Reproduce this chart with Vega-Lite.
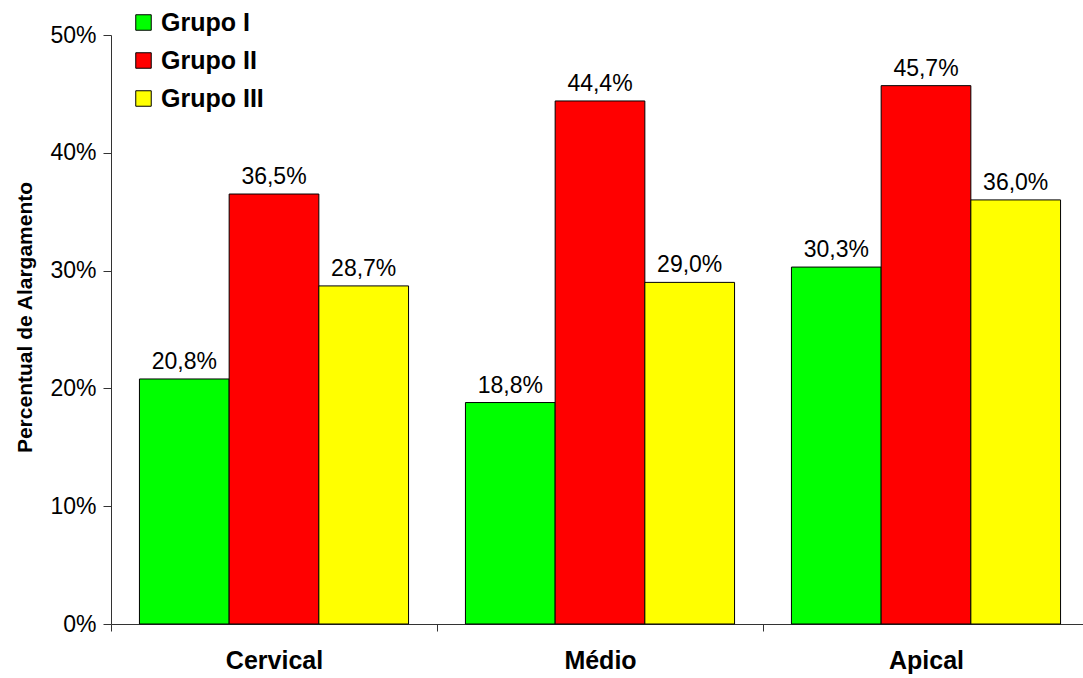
{
  "$schema": "https://vega.github.io/schema/vega-lite/v6.json",
  "width": 972,
  "height": 589,
  "autosize": {"type": "none"},
  "padding": {"left": 111, "top": 35, "right": 0, "bottom": 54},
  "background": "white",
  "config": {
    "font": "Liberation Sans",
    "view": {"stroke": null},
    "locale": {"number": {"decimal": ",", "thousands": ".", "grouping": [3], "currency": ["", ""]}}
  },
  "data": {
    "values": [
      {"regiao": "Cervical", "grupo": "Grupo I", "valor": 0.208},
      {"regiao": "Cervical", "grupo": "Grupo II", "valor": 0.365},
      {"regiao": "Cervical", "grupo": "Grupo III", "valor": 0.287},
      {"regiao": "Médio", "grupo": "Grupo I", "valor": 0.188},
      {"regiao": "Médio", "grupo": "Grupo II", "valor": 0.444},
      {"regiao": "Médio", "grupo": "Grupo III", "valor": 0.29},
      {"regiao": "Apical", "grupo": "Grupo I", "valor": 0.303},
      {"regiao": "Apical", "grupo": "Grupo II", "valor": 0.457},
      {"regiao": "Apical", "grupo": "Grupo III", "valor": 0.36}
    ]
  },
  "encoding": {
    "x": {
      "field": "regiao",
      "type": "nominal",
      "sort": ["Cervical", "Médio", "Apical"],
      "scale": {"paddingInner": 0, "paddingOuter": 0, "range": [0, 978]},
      "axis": {
        "title": null,
        "labelAngle": 0,
        "labelFontSize": 25,
        "labelFontWeight": "bold",
        "labelColor": "#000",
        "labelPadding": 17,
        "tickBand": "extent",
        "tickSize": 7,
        "tickColor": "#333",
        "domainColor": "#333",
        "grid": false
      }
    },
    "xOffset": {
      "field": "grupo",
      "type": "nominal",
      "sort": ["Grupo I", "Grupo II", "Grupo III"],
      "scale": {"paddingInner": 0, "paddingOuter": 0.317}
    },
    "y": {
      "field": "valor",
      "type": "quantitative",
      "scale": {"domain": [0, 0.5], "nice": false},
      "axis": {
        "title": "Percentual de Alargamento",
        "titleFontSize": 21,
        "titleFontWeight": "bold",
        "titleColor": "#000",
        "titlePadding": 14,
        "titleY": 282,
        "format": ".0%",
        "values": [0, 0.1, 0.2, 0.3, 0.4, 0.5],
        "labelFontSize": 23,
        "labelColor": "#000",
        "labelPadding": 7,
        "tickSize": 8,
        "tickColor": "#333",
        "domainColor": "#333",
        "grid": false
      }
    }
  },
  "layer": [
    {
      "mark": {"type": "bar", "stroke": "#000", "strokeWidth": 1},
      "encoding": {
        "color": {
          "field": "grupo",
          "type": "nominal",
          "sort": ["Grupo I", "Grupo II", "Grupo III"],
          "scale": {"domain": ["Grupo I", "Grupo II", "Grupo III"], "range": ["#00FF00", "#FF0000", "#FFFF00"]},
          "legend": {
            "title": null,
            "orient": "none",
            "legendX": 20,
            "legendY": -25,
            "symbolType": "square",
            "symbolSize": 240,
            "symbolStrokeColor": "#000",
            "symbolStrokeWidth": 1,
            "labelFontSize": 25,
            "labelFontWeight": "bold",
            "labelColor": "#000",
            "labelOffset": 5,
            "rowPadding": 12
          }
        }
      }
    },
    {
      "mark": {"type": "text", "baseline": "alphabetic", "dy": -10, "fontSize": 23, "color": "#000"},
      "encoding": {
        "text": {"field": "valor", "type": "quantitative", "format": ".1%"}
      }
    }
  ]
}
